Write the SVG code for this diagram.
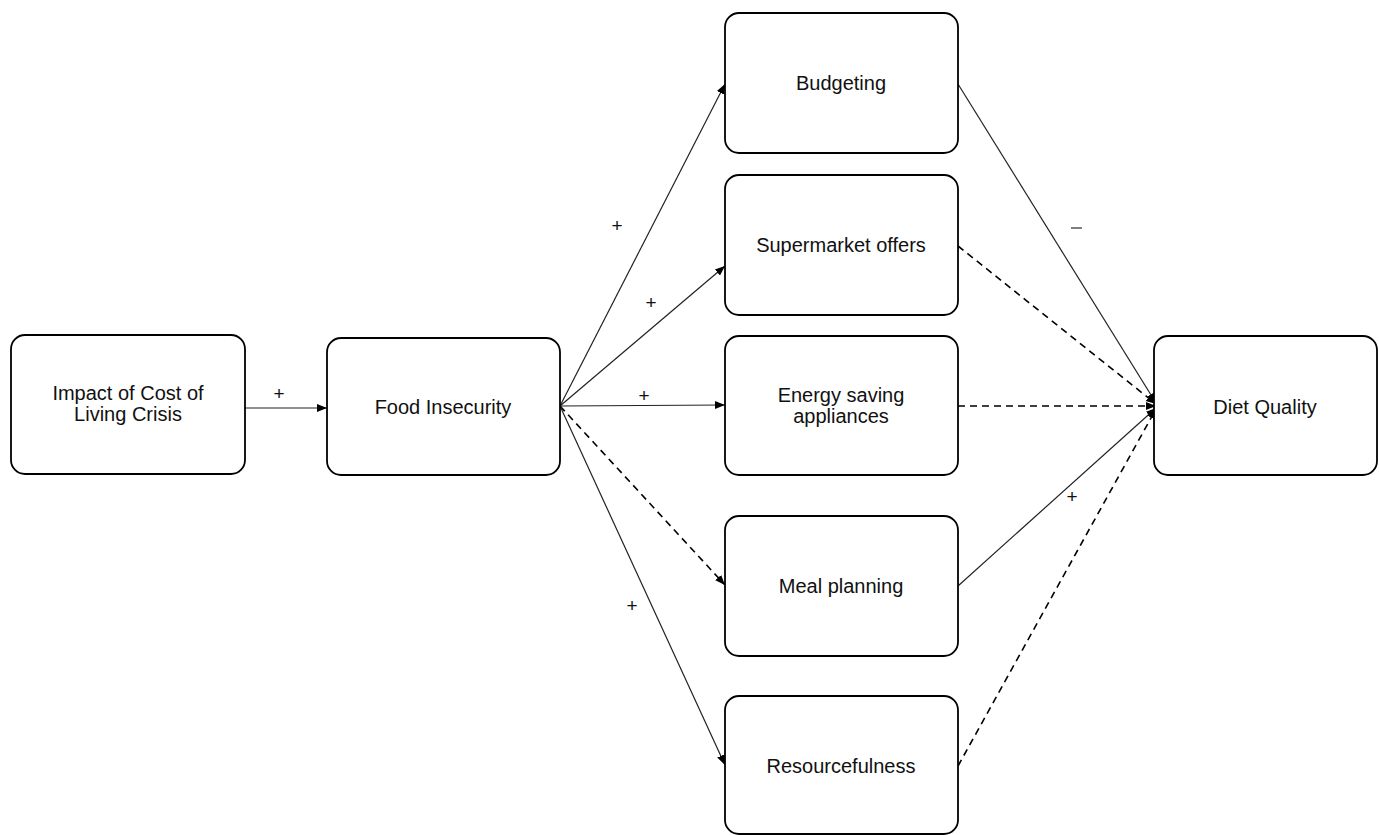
<svg xmlns="http://www.w3.org/2000/svg" width="1379" height="835" viewBox="0 0 1379 835">
<style>
.node{fill:#fff;stroke:#000;stroke-width:1.8}
.lbl{font-family:"Liberation Sans",Arial,sans-serif;font-size:20px;fill:#111;text-anchor:middle}
.sign{font-family:"Liberation Sans",Arial,sans-serif;font-size:19px;fill:#111;text-anchor:middle}
.e{fill:none;stroke:#222;stroke-width:1.2}
.d{fill:none;stroke:#000;stroke-width:1.6;stroke-dasharray:7,5}
</style>
<defs>
<marker id="ah" viewBox="0 0 10 10" refX="10" refY="5" markerWidth="10" markerHeight="10" markerUnits="userSpaceOnUse" orient="auto">
<path d="M0,1 L10,5 L0,9 Z" fill="#000"/>
</marker>
</defs>
<rect width="1379" height="835" fill="#fff"/>
<g id="connectors">
<line class="e" x1="245" y1="408" x2="327" y2="408" marker-end="url(#ah)"/>
<line class="e" x1="560" y1="406" x2="725" y2="84" marker-end="url(#ah)"/>
<line class="e" x1="560" y1="406" x2="725" y2="266" marker-end="url(#ah)"/>
<line class="e" x1="560" y1="406" x2="725" y2="405" marker-end="url(#ah)"/>
<line class="d" x1="560" y1="406" x2="725" y2="585" marker-end="url(#ah)"/>
<line class="e" x1="560" y1="406" x2="725" y2="765" marker-end="url(#ah)"/>
<line class="e" x1="958" y1="84" x2="1156" y2="403" marker-end="url(#ah)"/>
<line class="d" x1="958" y1="246" x2="1156" y2="404" marker-end="url(#ah)"/>
<line class="d" x1="958" y1="406" x2="1156" y2="406" marker-end="url(#ah)"/>
<line class="e" x1="958" y1="586" x2="1156" y2="408" marker-end="url(#ah)"/>
<line class="d" x1="958" y1="766" x2="1156" y2="409" marker-end="url(#ah)"/>
<text class="sign" x="279" y="400">+</text>
<text class="sign" x="617" y="232">+</text>
<text class="sign" x="651" y="309">+</text>
<text class="sign" x="644" y="402">+</text>
<text class="sign" x="632" y="612">+</text>
<text class="sign" x="1072" y="503">+</text>
<line x1="1071" y1="228" x2="1082" y2="228" stroke="#555" stroke-width="1.5"/>
</g>
<g id="n-impact"><rect class="node" x="11" y="335" width="234" height="139" rx="14"/><text class="lbl" x="128" y="400">Impact of Cost of</text><text class="lbl" x="128" y="421">Living Crisis</text></g>
<g id="n-food"><rect class="node" x="327" y="338" width="233" height="137" rx="14"/><text class="lbl" x="443" y="414">Food Insecurity</text></g>
<g id="n-budget"><rect class="node" x="725" y="13" width="233" height="140" rx="14"/><text class="lbl" x="841" y="90">Budgeting</text></g>
<g id="n-super"><rect class="node" x="725" y="175" width="233" height="140" rx="14"/><text class="lbl" x="841" y="252">Supermarket offers</text></g>
<g id="n-energy"><rect class="node" x="725" y="336" width="233" height="139" rx="14"/><text class="lbl" x="841" y="402">Energy saving</text><text class="lbl" x="841" y="423">appliances</text></g>
<g id="n-meal"><rect class="node" x="725" y="516" width="233" height="140" rx="14"/><text class="lbl" x="841" y="593">Meal planning</text></g>
<g id="n-resource"><rect class="node" x="725" y="696" width="233" height="138" rx="14"/><text class="lbl" x="841" y="773">Resourcefulness</text></g>
<g id="n-diet"><rect class="node" x="1154" y="336" width="223" height="139" rx="14"/><text class="lbl" x="1265" y="414">Diet Quality</text></g>
</svg>
